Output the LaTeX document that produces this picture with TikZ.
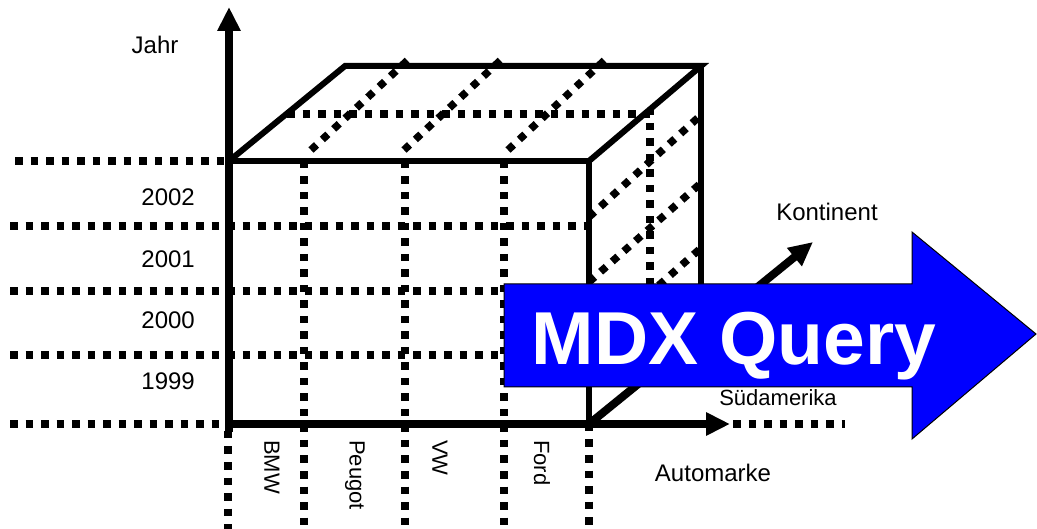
\documentclass[tikz,border=0pt]{standalone}
\usepackage{fontspec}
\setmainfont{Liberation Sans}
\usetikzlibrary{arrows.meta, positioning, calc}

\begin{document}
\begin{tikzpicture}[
    x=1pt, y=-1pt,
    font=\fontsize{24}{28}\selectfont,
    dotline/.style={
        line width=7.5pt, dash pattern=on 7.5pt off 8pt
    },
    edge/.style={
        line width=6pt, line join=miter
    },
    axis/.style={
        -{Triangle[length=24pt,width=22pt]}, line width=8pt
    },
    lbl/.style={anchor=base, inner sep=0pt},
    brand/.style={
        rotate=-90, anchor=west, inner sep=0pt,
        font=\fontsize{22}{26}\selectfont
    },
]

\definecolor{qblue}{RGB}{0,0,255}

\useasboundingbox (0,0) rectangle (1037,529);

% ============================================================
% Cube corners and axes
% ============================================================

\coordinate (O)  at (229,424);
\coordinate (F1) at (229,161);
\coordinate (F2) at (589,161);
\coordinate (F3) at (589,424);
\coordinate (B1) at (345,66);
\coordinate (B2) at (701,66);
\coordinate (B3) at (701,329);
\coordinate (yTip) at (229,7);
\coordinate (xTip) at (730,424);
\coordinate (zTip) at (813,242);

% ============================================================
% Dotted grid
% ============================================================

% years
\draw[dotline] (15,161) -- (F1);
\foreach \y in {226,291,355}
    \draw[dotline] (10,\y) -- (589,\y);
\draw[dotline] (10,424) -- (O);

% car brands
\draw[dotline] (228,431) -- (228,529);
\foreach \x in {304,405,504}
    \draw[dotline] (\x,161) -- (\x,529);
\draw[dotline] (F3) -- (589,529);

% top face and middle slice
\foreach \xa/\xb in {311/410, 404/503, 508/607}
    \draw[dotline] (\xa,150) -- (\xb,58);
\draw[dotline] (287,114) -- (650,114) -- (650,380);

% right face
\foreach \ya/\yb in {217/115, 282/183, 347/248}
    \draw[dotline] (589,\ya) -- (701,\yb);

% continent axis beyond the arrow
\draw[dotline] (733,424) -- (845,424);

% ============================================================
% Cube and axes
% ============================================================

\draw[edge] (F1) -- (F2) -- (F3);
\draw[edge] (F1) -- (B1) -- (B2) -- (F2);
\draw[edge] (B2) -- (B3);

\draw[axis] (229,432) -- (yTip);
\draw[axis] (O) -- (xTip);
\draw[axis] (F3) -- (zTip);

% ============================================================
% Labels
% ============================================================

\node[lbl] (jahr) at (155,54) {Jahr};
\node[lbl] (kontinent) at (827,221) {Kontinent};
\node[lbl, font=\fontsize{22}{26}\selectfont] (sued) at (778,406) {Südamerika};
\node[lbl] (automarke) at (713,482) {Automarke};

\foreach \yr/\y in {2002/206, 2001/268, 2000/329, 1999/390}
    \node[anchor=base east, inner sep=0pt] (y\yr) at (195,\y) {\yr};

\foreach \b/\x in {BMW/272, Peugot/355, VW/440, Ford/542}
    \node[brand] (\b) at (\x,440) {\b};

% ============================================================
% Query arrow
% ============================================================

\filldraw[fill=qblue, draw=black, line width=1pt]
    (504,284) -- (912,284) -- (912,232) -- (1036,334)
    -- (912,439) -- (912,387) -- (504,387) -- cycle;
\node[lbl, text=white, font=\fontsize{75}{80}\selectfont\bfseries]
    (query) at (734,365) {MDX Query};

\end{tikzpicture}
\end{document}
